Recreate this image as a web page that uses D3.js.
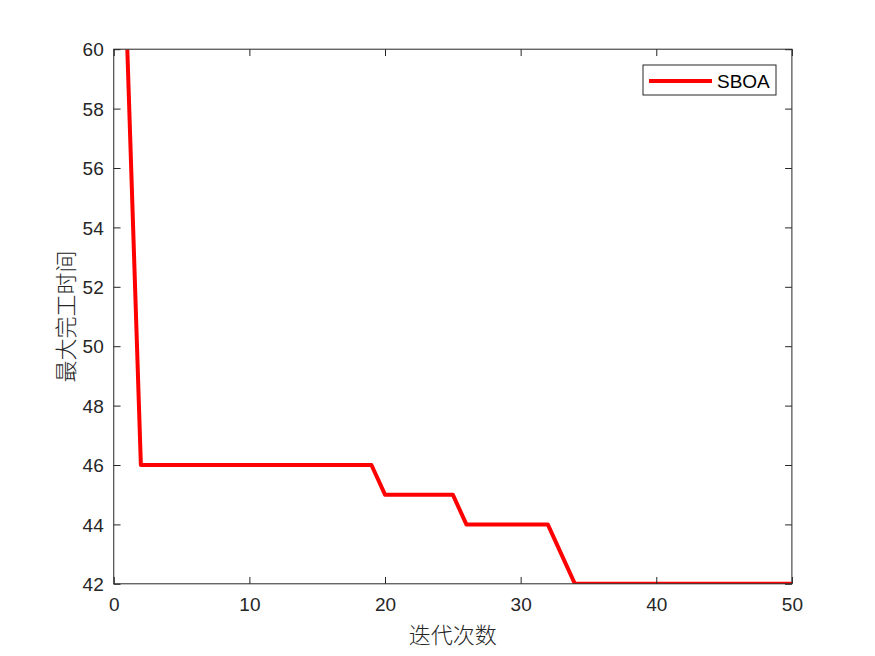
<!DOCTYPE html>
<html><head><meta charset="utf-8">
<script src="https://cdn.jsdelivr.net/npm/d3@7/dist/d3.min.js"></script>
<style>body{margin:0;background:#fff}svg{display:block}</style>
</head><body>
<svg id="c" width="875" height="656"></svg>
<script>
const iterations = d3.range(1, 51);
const sboaValues = [60,46,46,46,46,46,46,46,46,46,46,46,46,46,46,46,46,46,46,45,45,45,45,45,45,44,44,44,44,44,44,44,43,42,42,42,42,42,42,42,42,42,42,42,42,42,42,42,42,42];
const xTicks = [0,10,20,30,40,50];
const yTicks = [42,44,46,48,50,52,54,56,58,60];
const seriesName = "SBOA";
const xLabel = "迭代次数";
const yLabel = "最大完工时间";

const W = 875, H = 656;
const L = 113.75, R = 791.9, T = 49.2, B = 583.8;
const svg = d3.select("#c");
svg.append("rect").attr("width", W).attr("height", H).attr("fill", "#fff");
const x = d3.scaleLinear().domain([0, 50]).range([L, R]);
const y = d3.scaleLinear().domain([42, 60]).range([B, T]);

svg.append("defs").append("clipPath").attr("id", "clip")
  .append("rect").attr("x", L).attr("y", T).attr("width", R - L).attr("height", B - T);

const data = iterations.map((d, i) => ({x: d, y: sboaValues[i]}));
svg.append("path").datum(data)
  .attr("clip-path", "url(#clip)")
  .attr("fill", "none").attr("stroke", "#ff0000").attr("stroke-width", 4)
  .attr("stroke-linejoin", "round")
  .attr("d", d3.line().x(d => x(d.x)).y(d => y(d.y)));

const tickLen = 6.8;
const fontTick = "Liberation Sans, Arial, sans-serif";
const axisColor = "#262626";
svg.append("rect").attr("x", L).attr("y", T).attr("width", R - L).attr("height", B - T)
  .attr("fill", "none").attr("stroke", axisColor).attr("stroke-width", 1);

const xb = svg.append("g").attr("transform", `translate(0,${B})`)
  .call(d3.axisBottom(x).tickValues(xTicks).tickSize(-tickLen).tickPadding(14).tickFormat(d3.format("d")));
const xt = svg.append("g").attr("transform", `translate(0,${T})`)
  .call(d3.axisTop(x).tickValues(xTicks).tickSize(-tickLen).tickFormat(""));
const yl = svg.append("g").attr("transform", `translate(${L},0)`)
  .call(d3.axisLeft(y).tickValues(yTicks).tickSize(-tickLen).tickPadding(10).tickFormat(d3.format("d")));
const yr = svg.append("g").attr("transform", `translate(${R},0)`)
  .call(d3.axisRight(y).tickValues(yTicks).tickSize(-tickLen).tickFormat(""));
[xb, xt, yl, yr].forEach(a => {
  a.select(".domain").remove();
  a.selectAll("line").attr("stroke", axisColor);
  a.selectAll("text").attr("fill", axisColor).style("font-family", fontTick).style("font-size", "19px");
});
yl.selectAll("text").attr("dy", "0.35em");

svg.append("text").attr("x", (L + R) / 2).attr("y", 643)
  .attr("text-anchor", "middle").attr("fill", axisColor)
  .style("font-family", "Noto Sans CJK SC").style("font-size", "22px").style("font-weight", 300)
  .text(xLabel);
svg.append("text").attr("transform", `translate(74,${(T + B) / 2}) rotate(-90)`)
  .attr("text-anchor", "middle").attr("fill", axisColor)
  .style("font-family", "Noto Sans CJK SC").style("font-size", "22px").style("font-weight", 300)
  .text(yLabel);

const lg = svg.append("g");
lg.append("rect").attr("x", 643).attr("y", 65).attr("width", 133).attr("height", 30)
  .attr("fill", "#fff").attr("stroke", axisColor).attr("stroke-width", 1);
lg.append("line").attr("x1", 649).attr("x2", 712).attr("y1", 81).attr("y2", 81)
  .attr("stroke", "#ff0000").attr("stroke-width", 4);
lg.append("text").attr("x", 717).attr("y", 81).attr("dy", "0.35em")
  .attr("fill", "#000").style("font-family", fontTick).style("font-size", "19px")
  .text(seriesName);
</script>
</body></html>
